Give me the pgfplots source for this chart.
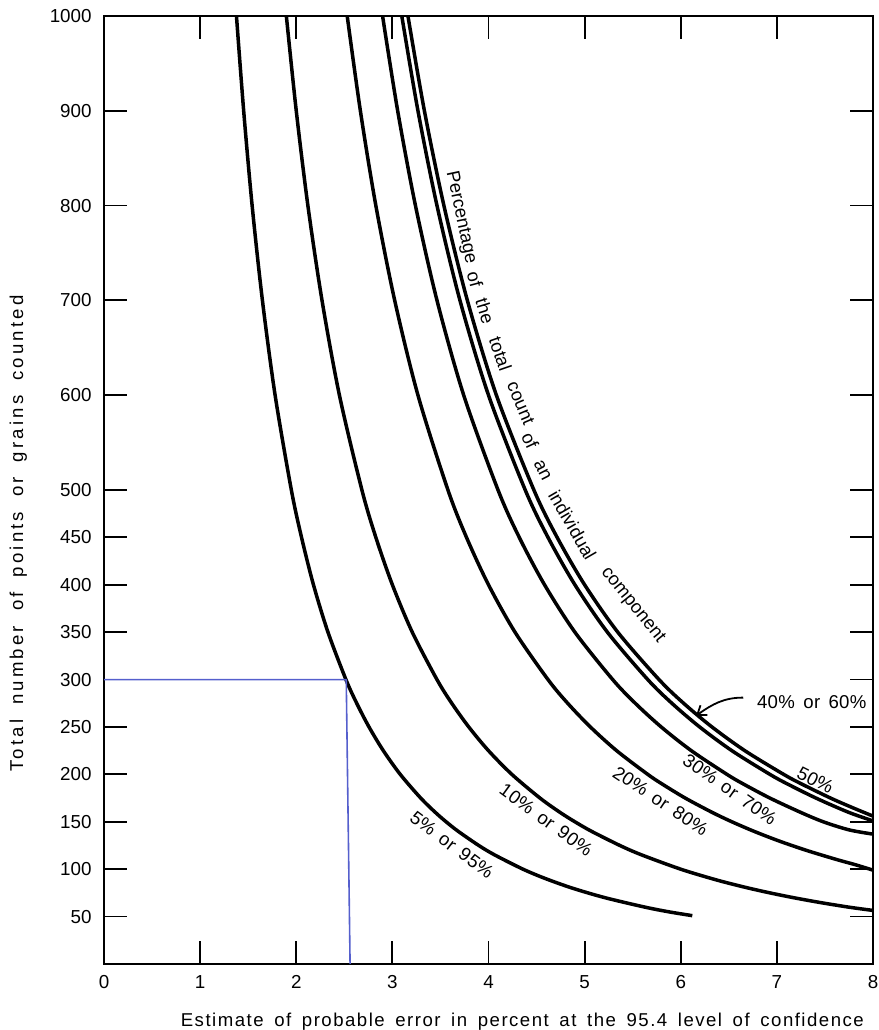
\documentclass[border=0pt]{standalone}
\usepackage{pgfplots}
\pgfplotsset{compat=1.18}
\usepackage{fontspec}
\setmainfont{Liberation Sans}
\newfontfamily\plainfont{Liberation Sans}
\newfontfamily\xlblfont{Liberation Sans}[LetterSpace=8, WordSpace=1.6]
\newfontfamily\curvefont{Liberation Sans}[LetterSpace=2, WordSpace=1.5]
\newfontfamily\ylblfont{Liberation Sans}[LetterSpace=17, WordSpace=1.8]
\usetikzlibrary{arrows.meta}
\definecolor{guideblue}{RGB}{85,95,205}
\newcommand{\lbl}{\curvefont\fontsize{9.3}{11}\selectfont}
\newcommand{\capfont}{\plainfont\fontsize{9.2}{11}\selectfont}

\begin{document}
\begin{tikzpicture}
\begin{axis}[
  scale only axis,
  width=384.5pt, height=474pt,
  xmin=0, xmax=8, ymin=0, ymax=1000,
  xtick={0,1,...,8},
  ytick={50,100,150,200,250,300,350,400,450,500,600,700,800,900,1000},
  tick align=inside,
  major tick length=11.5pt,
  axis line style={line width=1.3pt},
  tick style={black, line width=0.9pt},
  tick label style={font=\fontsize{9.4}{11}\selectfont, inner sep=0pt},
  /pgf/number format/assume math mode=true,
  /pgf/number format/1000 sep={},
  xticklabel style={yshift=-5.5pt},
  yticklabel style={xshift=-6pt},
  xlabel={Estimate of probable error in percent at the 95.4 level of confidence},
  ylabel={Total number of points or grains counted},
  xlabel style={at={(axis description cs:0.544,-0.0654)}, anchor=base, font=\xlblfont\fontsize{9.3}{11}\selectfont},
  ylabel style={at={(axis description cs:-0.1053,0.454)}, anchor=base, font=\ylblfont\fontsize{9.3}{11}\selectfont},
  every axis plot/.append style={line join=round},
]
% 5% or 95%
\addplot[black, line width=1.75pt, smooth] coordinates {
(1.378,1000) (1.453,900) (1.541,800) (1.648,700) (1.780,600) (1.949,500) (2.055,450) (2.179,400) (2.330,350) (2.517,300) (2.629,275) (2.757,250) (2.906,225) (3.082,200) (3.295,175) (3.446,160) (3.559,150) (3.684,140) (3.899,125) (4.065,115) (4.359,100) (4.595,90) (4.873,80) (5.210,70) (5.627,60) (5.878,55) (6.12,51)};
% 10% or 90%
\addplot[black, line width=1.75pt, smooth] coordinates {
(1.897,1000) (2.0,900) (2.121,800) (2.268,700) (2.449,600) (2.683,500) (2.828,450) (3.0,400) (3.207,350) (3.464,300) (3.618,275) (3.795,250) (4.0,225) (4.243,200) (4.536,175) (4.743,160) (4.899,150) (5.071,140) (5.367,125) (5.595,115) (6.0,100) (6.325,90) (6.508,85) (6.708,80) (6.928,75) (7.171,70) (7.442,65) (7.746,60) (8.0,56.5)};
% 20% or 80%
\addplot[black, line width=1.75pt, smooth] coordinates {
(2.530,1000) (2.667,900) (2.828,800) (3.024,700) (3.266,600) (3.578,500) (3.771,450) (4.0,400) (4.276,350) (4.619,300) (4.824,275) (5.060,250) (5.333,225) (5.657,200) (5.804,190) (6.047,175) (6.325,160) (6.532,150) (6.761,140) (7.016,130) (7.303,120) (7.628,110) (7.807,105) (8.0,99)};
% 30% or 70%
\addplot[black, line width=1.75pt, smooth] coordinates {
(2.898,1000) (3.055,900) (3.240,800) (3.464,700) (3.742,600) (4.099,500) (4.320,450) (4.583,400) (4.899,350) (5.292,300) (5.527,275) (5.797,250) (6.110,225) (6.481,200) (6.649,190) (6.928,175) (7.246,160) (7.483,150) (7.75,141.5) (8.0,137)};
% 40% or 60%
\addplot[black, line width=1.75pt, smooth] coordinates {
(3.098,1000) (3.266,900) (3.464,800) (3.703,700) (4.0,600) (4.382,500) (4.619,450) (4.899,400) (5.237,350) (5.657,300) (5.908,275) (6.197,250) (6.532,225) (6.928,200) (7.108,190) (7.407,175) (7.746,160) (8.0,151)};
% 50%
\addplot[black, line width=1.75pt, smooth] coordinates {
(3.162,1000) (3.333,900) (3.536,800) (3.780,700) (4.082,600) (4.472,500) (4.714,450) (5.0,400) (5.345,350) (5.774,300) (6.030,275) (6.325,250) (6.667,225) (7.071,200) (7.255,190) (7.559,175) (7.785,165) (8.0,156)};
% guide lines
\addplot[guideblue, line width=0.8pt] coordinates {(0,300) (2.52,300) (2.56,0)};

% curve labels
\node[font=\lbl, rotate=-37] at (axis cs:3.62,125.5) {5\% or 95\%};
\node[font=\lbl, rotate=-36] at (axis cs:4.60,152) {10\% or 90\%};
\node[font=\lbl, rotate=-33.5] at (axis cs:5.79,172) {20\% or 80\%};
\node[font=\lbl, rotate=-35] at (axis cs:6.51,184) {30\% or 70\%};
\node[font=\lbl, rotate=-27] at (axis cs:7.40,194) {50\%};
\node[font=\lbl, anchor=west] at (axis cs:6.72,276) {40\% or 60\%};
\draw[black, line width=0.9pt, -{Straight Barb[length=4pt,width=6pt]}] (axis cs:6.65,281) to[out=180,in=35] (axis cs:6.16,262);

% caption following the 50% curve, word by word
\node[font=\capfont, rotate=-78, inner sep=0pt] at (axis cs:3.712,787.4) {Percentage};
\node[font=\capfont, rotate=-75, inner sep=0pt] at (axis cs:3.860,722.6) {of};
\node[font=\capfont, rotate=-73, inner sep=0pt] at (axis cs:3.965,689.1) {the};
\node[font=\capfont, rotate=-71, inner sep=0pt] at (axis cs:4.124,643.5) {total};
\node[font=\capfont, rotate=-67, inner sep=0pt] at (axis cs:4.336,591.4) {count};
\node[font=\capfont, rotate=-65, inner sep=0pt] at (axis cs:4.433,551.8) {of};
\node[font=\capfont, rotate=-63, inner sep=0pt] at (axis cs:4.561,521.1) {an};
\node[font=\capfont, rotate=-60, inner sep=0pt] at (axis cs:4.873,463.1) {individual};
\node[font=\capfont, rotate=-51, inner sep=0pt] at (axis cs:5.50,378) {component};
\end{axis}
\pgfresetboundingbox
\path[use as bounding box] ([shift={(-52pt,-33pt)}]current axis.south west) rectangle ([shift={(2.5pt,8pt)}]current axis.north east);
\end{tikzpicture}
\end{document}
